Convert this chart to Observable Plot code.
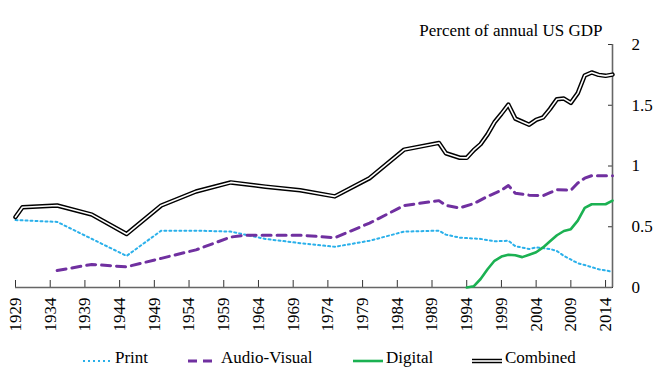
<!DOCTYPE html>
<html>
<head>
<meta charset="utf-8">
<script src="https://cdn.jsdelivr.net/npm/d3@7"></script>
<script src="https://cdn.jsdelivr.net/npm/@observablehq/plot@0.6"></script>
<style>
  html, body { margin: 0; padding: 0; background: #fff; }
  #wrap { position: relative; width: 654px; height: 372px; font-family: "Liberation Serif", serif; }
  #legend { position: absolute; left: 0; top: 340px; }
</style>
</head>
<body>
<div id="wrap"></div>
<script>
// ---- Data (percent of annual US GDP) ----
const printYears  = [1929, 1935, 1945, 1950, 1955, 1960, 1965, 1970, 1975, 1980, 1985, 1990, 1991, 1993, 1996, 1998, 2000, 2001, 2003, 2004, 2006, 2007, 2008, 2010, 2011, 2013, 2014, 2015];
const printValues = [0.555, 0.54, 0.26, 0.468, 0.468, 0.46, 0.40, 0.365, 0.335, 0.385, 0.46, 0.468, 0.435, 0.41, 0.40, 0.38, 0.385, 0.34, 0.317, 0.33, 0.317, 0.30, 0.26, 0.20, 0.185, 0.15, 0.14, 0.13];

const avYears  = [1935, 1940, 1945, 1950, 1955, 1960, 1962, 1965, 1970, 1975, 1980, 1985, 1990, 1991, 1993, 1995, 1997, 1999, 2000, 2001, 2003, 2005, 2006, 2007, 2009, 2010, 2011, 2012, 2014, 2015];
const avValues = [0.14, 0.19, 0.17, 0.24, 0.31, 0.415, 0.43, 0.43, 0.43, 0.41, 0.53, 0.675, 0.715, 0.675, 0.655, 0.69, 0.75, 0.80, 0.84, 0.775, 0.76, 0.755, 0.78, 0.805, 0.80, 0.86, 0.90, 0.92, 0.92, 0.92];

const digitalYears  = [1994, 1995, 1996, 1997, 1998, 1999, 2000, 2001, 2002, 2003, 2004, 2005, 2006, 2007, 2008, 2009, 2010, 2011, 2012, 2013, 2014, 2015];
const digitalValues = [0, 0.01, 0.07, 0.15, 0.22, 0.255, 0.27, 0.265, 0.25, 0.27, 0.29, 0.33, 0.38, 0.43, 0.465, 0.48, 0.55, 0.655, 0.685, 0.685, 0.685, 0.715];

const combinedYears  = [1929, 1930, 1935, 1940, 1945, 1950, 1955, 1960, 1965, 1970, 1975, 1980, 1985, 1990, 1991, 1993, 1994, 1995, 1996, 1997, 1998, 1999, 2000, 2001, 2002, 2003, 2004, 2005, 2006, 2007, 2008, 2009, 2010, 2011, 2012, 2013, 2014, 2015];
const combinedValues = [0.58, 0.66, 0.675, 0.60, 0.44, 0.675, 0.79, 0.865, 0.83, 0.80, 0.75, 0.90, 1.135, 1.19, 1.105, 1.068, 1.067, 1.13, 1.18, 1.26, 1.36, 1.43, 1.505, 1.39, 1.365, 1.34, 1.38, 1.40, 1.47, 1.55, 1.555, 1.52, 1.60, 1.745, 1.77, 1.75, 1.742, 1.752];

const xTicks = [1929, 1934, 1939, 1944, 1949, 1954, 1959, 1964, 1969, 1974, 1979, 1984, 1989, 1994, 1999, 2004, 2009, 2014];
const yTicks = [0, 0.5, 1, 1.5, 2];
const seriesNames = ["Print", "Audio-Visual", "Digital", "Combined"];
const titleText = "Percent of annual US GDP";

// ---- Build tables ----
const toRows = (ys, vs) => ys.map((y, i) => ({year: y, value: vs[i]}));
const printRows = toRows(printYears, printValues);
const avRows = toRows(avYears, avValues);
const digitalRows = toRows(digitalYears, digitalValues);
const combinedRows = toRows(combinedYears, combinedValues);

const xDomain = [1929, 2015];
const colors = {print: "#2ab0ea", av: "#7030a0", digital: "#1bb152", combined: "#000"};
const printDash = "2,3";
const avDash = "9,6";

const chart = Plot.plot({
  width: 654,
  height: 340,
  marginLeft: 15,
  marginRight: 42,
  marginTop: 44,
  marginBottom: 53,
  style: {fontFamily: "Liberation Serif, serif", fontSize: "17px", color: "#000", background: "#fff"},
  x: {domain: xDomain, label: null},
  y: {domain: [0, 2], label: null},
  marks: [
    Plot.axisX({ticks: xTicks, tickFormat: d => String(d), tickRotate: -90, tickSize: -7, tickPadding: 17, label: null, stroke: "#333"}),
    Plot.axisY({anchor: "right", ticks: yTicks, tickFormat: d => String(d), tickSize: -5, tickPadding: 24, label: null, stroke: "#333", textAnchor: "start"}),
    Plot.ruleY([0], {stroke: "#666", strokeWidth: 1.6}),
    Plot.ruleX([xDomain[1]], {y1: 0, y2: 2, stroke: "#666", strokeWidth: 1.6}),
    Plot.line(printRows, {x: "year", y: "value", stroke: colors.print, strokeWidth: 2, strokeDasharray: printDash}),
    Plot.line(avRows, {x: "year", y: "value", stroke: colors.av, strokeWidth: 3, strokeDasharray: avDash}),
    Plot.line(digitalRows, {x: "year", y: "value", stroke: colors.digital, strokeWidth: 2.6}),
    Plot.line(combinedRows, {x: "year", y: "value", stroke: colors.combined, strokeWidth: 4.5}),
    Plot.line(combinedRows, {x: "year", y: "value", stroke: "#fff", strokeWidth: 1.6}),
    Plot.text([titleText], {frameAnchor: "top-right", textAnchor: "end", lineAnchor: "bottom", dx: -10, dy: -9, fontSize: 17})
  ]
});

const wrap = document.getElementById("wrap");
wrap.appendChild(chart);

// ---- Legend (below the chart) ----
const legendItems = [
  {name: seriesNames[0], x0: 83, x1: 112, tx: 115, kind: "print"},
  {name: seriesNames[1], x0: 188, x1: 214, tx: 221, kind: "av"},
  {name: seriesNames[2], x0: 353, x1: 383, tx: 386, kind: "digital"},
  {name: seriesNames[3], x0: 472, x1: 502, tx: 505, kind: "combined"}
];
const ns = "http://www.w3.org/2000/svg";
const lg = document.createElementNS(ns, "svg");
lg.setAttribute("id", "legend");
lg.setAttribute("width", 654);
lg.setAttribute("height", 32);
lg.style.fontFamily = "Liberation Serif, serif";
lg.style.fontSize = "17px";
const ly = 21;
function ln(x0, x1, y, stroke, sw, dash) {
  const l = document.createElementNS(ns, "line");
  l.setAttribute("x1", x0); l.setAttribute("x2", x1);
  l.setAttribute("y1", y); l.setAttribute("y2", y);
  l.setAttribute("stroke", stroke); l.setAttribute("stroke-width", sw);
  if (dash) l.setAttribute("stroke-dasharray", dash);
  lg.appendChild(l);
}
for (const it of legendItems) {
  if (it.kind === "print") ln(it.x0, it.x1, ly, colors.print, 2, printDash);
  if (it.kind === "av") ln(it.x0, it.x1, ly, colors.av, 3, avDash);
  if (it.kind === "digital") ln(it.x0, it.x1, ly, colors.digital, 2.6);
  if (it.kind === "combined") { ln(it.x0, it.x1, ly, "#000", 4.5); ln(it.x0, it.x1, ly, "#fff", 1.6); }
  const t = document.createElementNS(ns, "text");
  t.setAttribute("x", it.tx); t.setAttribute("y", 23);
  t.textContent = it.name;
  lg.appendChild(t);
}
wrap.appendChild(lg);
</script>
</body>
</html>
